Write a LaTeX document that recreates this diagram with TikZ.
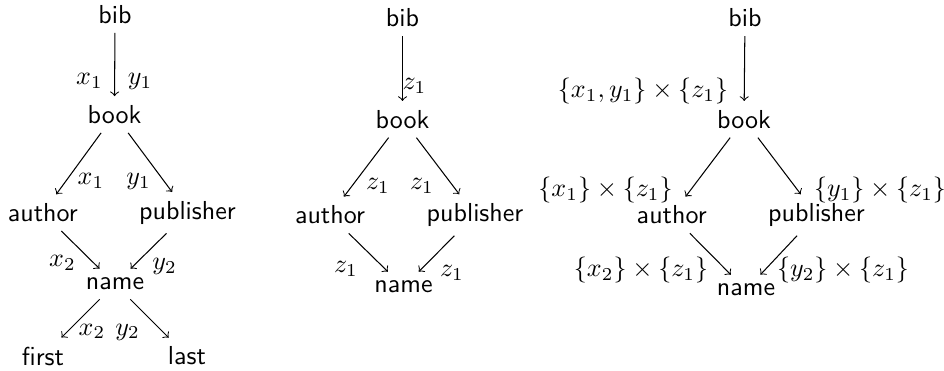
\documentclass[tikz,border=0pt]{standalone}
\begin{document}
\begin{tikzpicture}[x=0.3846pt,y=-0.3846pt,
  tnode/.style={font=\sffamily, inner sep=3.33pt},
  lab/.style={anchor=base, inner sep=0pt},
  arr/.style={->}]
\useasboundingbox (0,0) rectangle (944,371);
% ---- left tree
\node[tnode] (bibA) at (115,14.5) {bib};
\node[tnode] (bookA) at (114.5,114.5) {book};
\node[tnode] (authA) at (42.8,212.7) {author};
\node[tnode] (pubA) at (187.5,212.7) {publisher};
\node[tnode] (nameA) at (115,284) {name};
\node[tnode] (firstA) at (43,356) {first};
\node[tnode] (lastA) at (187,356) {last};
\draw[arr] (bibA) -- (bookA);
\draw[arr] (bookA) -- (authA);
\draw[arr] (bookA) -- (pubA);
\draw[arr] (authA) -- (nameA);
\draw[arr] (pubA) -- (nameA);
\draw[arr] (nameA) -- (firstA);
\draw[arr] (nameA) -- (lastA);
\node[lab] (la1) at (89.5,85) {$x_1$};
\node[lab] (la2) at (140,85) {$y_1$};
\node[lab] (la3) at (91,185) {$x_1$};
\node[lab] (la4) at (138.5,185) {$y_1$};
\node[lab] (la5) at (62.5,267) {$x_2$};
\node[lab] (la6) at (164.5,270) {$y_2$};
\node[lab] (la7) at (92,335) {$x_2$};
\node[lab] (la8) at (127.5,335) {$y_2$};
% ---- middle tree
\node[tnode] (bibB) at (402.5,17.7) {bib};
\node[tnode] (bookB) at (402.5,119.3) {book};
\node[tnode] (authB) at (330,215) {author};
\node[tnode] (pubB) at (475,215) {publisher};
\node[tnode] (nameB) at (403.5,287) {name};
\draw[arr] (bibB) -- (bookB);
\draw[arr] (bookB) -- (authB);
\draw[arr] (bookB) -- (pubB);
\draw[arr] (authB) -- (nameB);
\draw[arr] (pubB) -- (nameB);
\node[lab] (lb1) at (414.5,90) {$z_1$};
\node[lab] (lb2) at (378,190) {$z_1$};
\node[lab] (lb3) at (422,190) {$z_1$};
\node[lab] (lb4) at (346,273) {$z_1$};
\node[lab] (lb5) at (452,277) {$z_1$};
% ---- right tree
\node[tnode] (bibC) at (745,17.7) {bib};
\node[tnode] (bookC) at (744,119.3) {book};
\node[tnode] (authC) at (671.7,215) {author};
\node[tnode] (pubC) at (816.5,215) {publisher};
\node[tnode] (nameC) at (746,290) {name};
\draw[arr] (bibC) -- (bookC);
\draw[arr] (bookC) -- (authC);
\draw[arr] (bookC) -- (pubC);
\draw[arr] (authC) -- (nameC);
\draw[arr] (pubC) -- (nameC);
\node[lab] (lc1) at (643,97.5) {$\{x_1,y_1\}\times\{z_1\}$};
\node[lab] (lc2) at (605.5,196.5) {$\{x_1\}\times\{z_1\}$};
\node[lab] (lc3) at (880,196.5) {$\{y_1\}\times\{z_1\}$};
\node[lab] (lc4) at (641,277) {$\{x_2\}\times\{z_1\}$};
\node[lab] (lc5) at (843,277) {$\{y_2\}\times\{z_1\}$};
\end{tikzpicture}
\end{document}
